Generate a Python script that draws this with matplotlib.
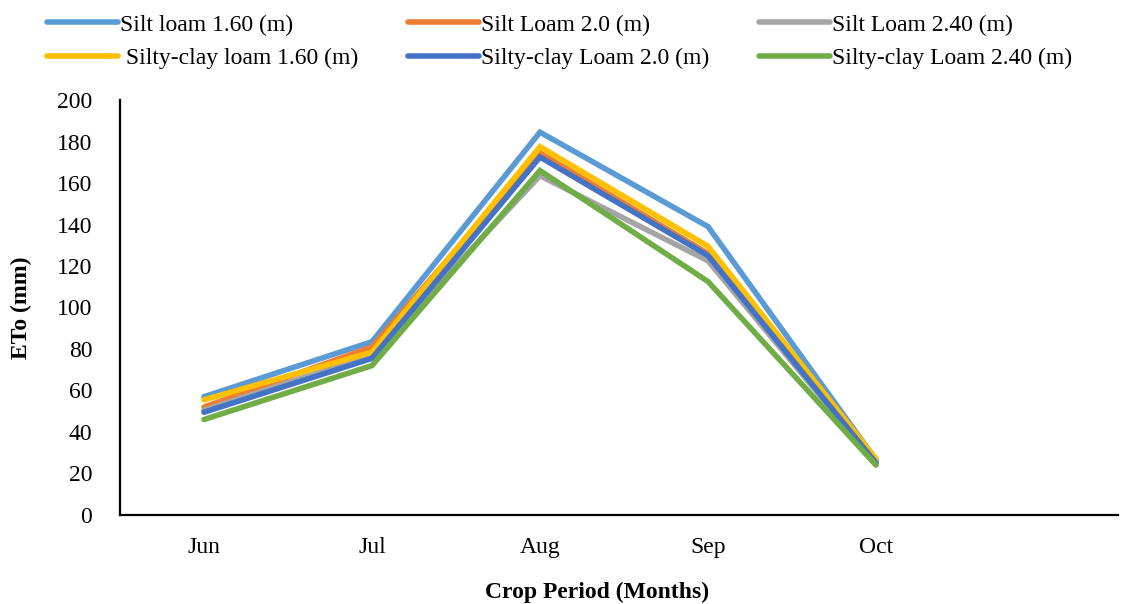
import numpy as np
import matplotlib.pyplot as plt

plt.rcParams["font.family"] = ["Liberation Serif", "DejaVu Serif"]

months = ["Jun", "Jul", "Aug", "Sep", "Oct"]

silt_160 = [57, 83.5, 184.5, 139, 26.5]
silt_200 = [52, 81, 174.5, 126, 26]
silt_240 = [50.5, 77, 163.5, 122.5, 25]
sclay_160 = [55.5, 78.5, 177.5, 129.5, 27]
sclay_200 = [49.5, 75.5, 172.5, 125, 25]
sclay_240 = [46, 72, 166, 112.5, 24]

labels = ["Silt loam 1.60 (m)", "Silt Loam 2.0 (m)", "Silt Loam 2.40 (m)",
          " Silty-clay loam 1.60 (m)", "Silty-clay Loam 2.0 (m)", "Silty-clay Loam 2.40 (m)"]
series = [silt_160, silt_200, silt_240, sclay_160, sclay_200, sclay_240]
colors = ["#5B9BD5", "#ED7D31", "#A5A5A5", "#FFC000", "#4472C4", "#70AD47"]

fig = plt.figure(figsize=(11.21, 6.04), dpi=100)
ax = fig.add_axes([0.107, 0.1474, 0.8903, 0.687])

x = np.arange(len(months))
lines = {}
for vals, lab, col in zip(series, labels, colors):
    lines[lab], = ax.plot(x, vals, color=col, lw=4, solid_capstyle="round",
                          solid_joinstyle="miter", label=lab)

ax.set_xlim(-0.5, 5.44)
ax.set_ylim(0, 200)
ax.set_yticks(range(0, 201, 20))
ax.set_xticks(x)
ax.set_xticklabels(months)
ax.tick_params(length=0, labelsize=17)
ax.tick_params(axis="y", pad=20)
ax.tick_params(axis="x", pad=16)
for s in ["top", "right"]:
    ax.spines[s].set_visible(False)
for s in ["left", "bottom"]:
    ax.spines[s].set_linewidth(1.6)

ax.set_xlabel("Crop Period (Months)", fontsize=17, fontweight="bold")
ax.xaxis.set_label_coords(0.478, -0.16)
ax.set_ylabel("ETo (mm)", fontsize=17, fontweight="bold")
ax.yaxis.set_label_coords(-0.088, 0.5)

# legend fills column-wise, so reorder to get row-wise layout
order = [0, 3, 1, 4, 2, 5]
handles = [lines[labels[i]] for i in order]
fig.legend(handles, [labels[i] for i in order], ncol=3, frameon=False,
           loc="upper left", bbox_to_anchor=(0.026, 1.006), fontsize=17,
           handlelength=3.0, handletextpad=0.1, columnspacing=2.1,
           labelspacing=0.52, borderpad=0.25)

plt.savefig("out.png", dpi=100)
